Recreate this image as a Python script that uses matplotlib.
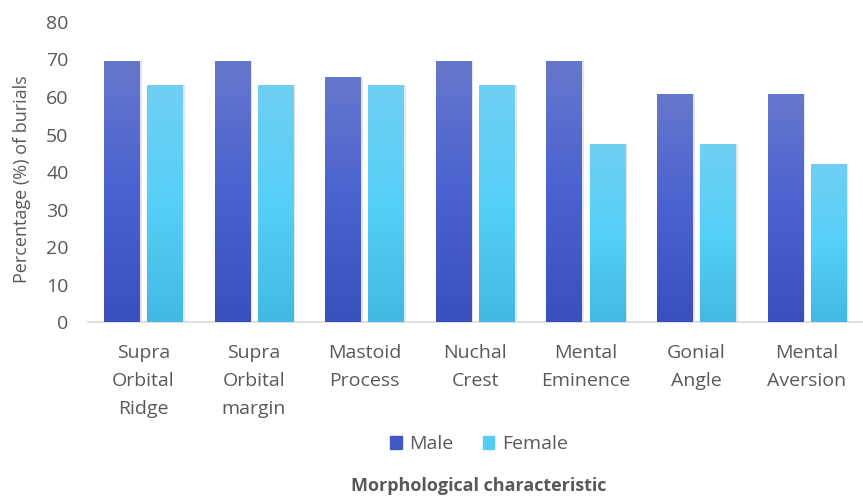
import numpy as np
import matplotlib
matplotlib.use("Agg")
import matplotlib.pyplot as plt
from matplotlib.colors import LinearSegmentedColormap
from matplotlib.patches import Patch

categories = ["Supra\nOrbital\nRidge", "Supra\nOrbital\nmargin", "Mastoid\nProcess",
              "Nuchal\nCrest", "Mental\nEminence", "Gonial\nAngle", "Mental\nAversion"]
male = [69.6, 69.6, 65.2, 69.6, 69.6, 60.9, 60.9]
female = [63.2, 63.2, 63.2, 63.2, 47.4, 47.4, 42.1]

plt.rcParams['font.family'] = ['Open Sans', 'DejaVu Sans']
grey = '#595959'

fig = plt.figure(figsize=(8.63, 4.98), dpi=100)
ax = fig.add_axes([0.102, 0.353, 0.897, 0.603])

male_cmap = LinearSegmentedColormap.from_list('m', ['#3a4fbe', '#4a62d0', '#6677cc'])
female_cmap = LinearSegmentedColormap.from_list('f', ['#42b9e2', '#56d0f8', '#70cff3'])

x = np.arange(len(categories))
w = 0.32
off = 0.195
grad = np.linspace(0, 1, 256).reshape(-1, 1)


def grad_bars(xs, vals, cmap):
    bars = ax.bar(xs, vals, width=w, color='none', zorder=3)
    for b in bars:
        bx, by = b.get_x(), b.get_y()
        bw, bh = b.get_width(), b.get_height()
        # soft shadow
        ax.bar(bx + bw / 2 + 0.01, bh, width=bw + 0.02, bottom=by,
               color='#000000', alpha=0.1, zorder=2, linewidth=0)
        im = ax.imshow(grad, extent=[bx, bx + bw, by, by + bh], origin='lower',
                       cmap=cmap, aspect='auto', zorder=3)
        im.set_clip_path(b)
    return bars


grad_bars(x - off, male, male_cmap)
grad_bars(x + off, female, female_cmap)

ax.set_xlim(-0.5, len(categories) - 0.5)
ax.set_ylim(0, 80)
ax.set_yticks(range(0, 81, 10))
ax.set_xticks(x)
ax.set_xticklabels(categories, linespacing=1.7)
ax.tick_params(axis='both', length=0, labelsize=14, colors=grey)
ax.tick_params(axis='x', pad=16)
ax.tick_params(axis='y', pad=14)
for s in ['top', 'right', 'left']:
    ax.spines[s].set_visible(False)
ax.spines['bottom'].set_color('#d9d9d9')
ax.spines['bottom'].set_linewidth(1.2)

fig.text(0.026, 0.64, 'Percentage (%) of burials', rotation=90, ha='center',
         va='center', fontsize=13, color=grey)

handles = [Patch(color='#4258c6', label='Male'), Patch(color='#56cdf4', label='Female')]
fig.legend(handles=handles, loc='center', bbox_to_anchor=(0.555, 0.108), ncol=2,
           frameon=False, fontsize=14, labelcolor=grey, handlelength=0.6,
           handleheight=0.6, handletextpad=0.4, columnspacing=1.5)

fig.text(0.555, 0.024, 'Morphological characteristic', ha='center', va='center',
         fontsize=13, fontweight='bold', color=grey)

fig.savefig('out.png', dpi=100)
